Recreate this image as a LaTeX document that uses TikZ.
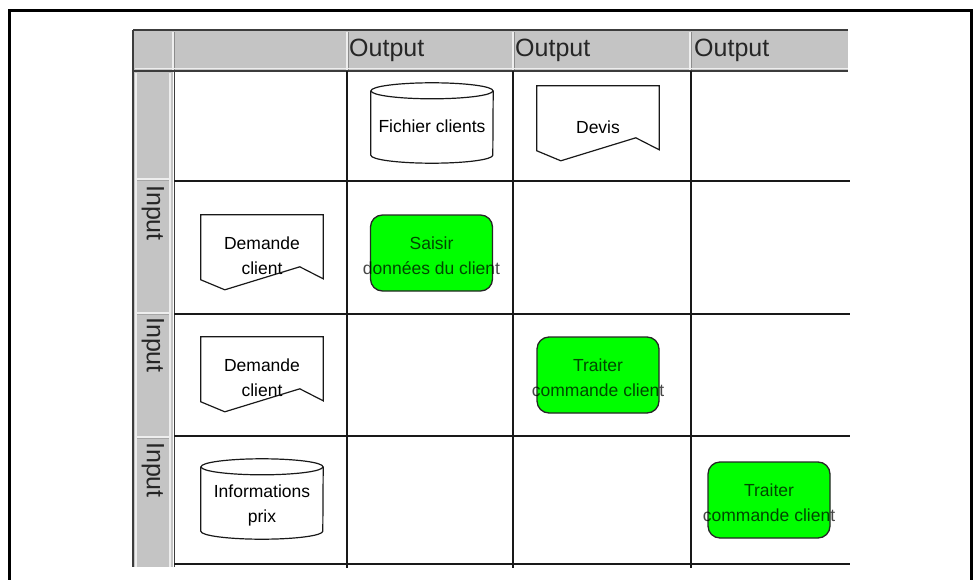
\documentclass[tikz,border=0pt]{standalone}
\usepackage{fontspec}
\setmainfont{Liberation Sans}
\usetikzlibrary{calc}
\definecolor{hdrgray}{RGB}{196,196,196}
\definecolor{hdrlight}{RGB}{238,238,238}
\definecolor{hdrdark}{RGB}{60,60,60}
\definecolor{gridcol}{RGB}{25,25,25}
\definecolor{procgreen}{RGB}{0,255,0}
\newcommand\drawstore[1]{%
  \draw[shapeline] ($(#1.north)+(0,8)$) ellipse [x radius=61pt, y radius=8pt];
  \draw[shapeline] ($(#1.north west)+(0,8)$) -- ($(#1.south west)+(0,-8)$)
    arc[start angle=180, end angle=360, x radius=61pt, y radius=8pt]
    -- ($(#1.north east)+(0,8)$);}
\newcommand\drawdocu[1]{%
  \draw[shapeline] (#1.north west) -- (#1.north east) -- ($(#1.north east)+(0,64)$)
    -- ($(#1.north west)+(99,52)$) -- ($(#1.north west)+(24,75)$)
    -- ($(#1.north west)+(0,65)$) -- cycle;}
\newcommand\tpad{\rule{0pt}{19pt}}
\newcommand\tpadd{\rule{0pt}{26pt}}
\begin{document}
\begin{tikzpicture}[x=1pt,y=-1pt,
  hdr/.style={font=\fontsize{25}{29}\selectfont, text=black!85, inner sep=0pt},
  lbl/.style={font=\fontsize{17.5}{25}\selectfont, align=center, inner sep=0pt},
  shapeline/.style={draw=gridcol, line width=1.2pt},
  store/.style={lbl, minimum width=122pt, minimum height=80pt},
  docu/.style={lbl, minimum width=122pt, minimum height=76pt},
  proc/.style={lbl, minimum width=122pt, minimum height=76pt, rounded corners=12pt,
    draw=black!85, line width=1.3pt, fill=procgreen, text=black, text opacity=0.72},
  gridline/.style={draw=gridcol, line width=1.5pt},
  lightline/.style={draw=hdrlight, line width=1.5pt},
  darkline/.style={draw=hdrdark, line width=1.6pt}]
\useasboundingbox (0,0) rectangle (973,580);
% outer frame
\draw[line width=3pt] (9.5,590) -- (9.5,11) -- (971.5,11) -- (971.5,590);
% gray header row and column
\fill[hdrgray] (133,30) rectangle (848,71);
\fill[hdrgray] (133,71) rectangle (173,567);
% header separators
\foreach \xx in {173,347,513,690} {
  \draw[lightline] (\xx,32) -- (\xx,70);
  \draw[draw=black!45, line width=0.8pt] (\xx+1.5,32) -- (\xx+1.5,70);
}
% gray column separators
\foreach \yy in {179,313,437} {
  \draw[lightline] (135,\yy) -- (171,\yy);
  \draw[draw=black!35, line width=0.8pt] (135,\yy+1.5) -- (171,\yy+1.5);
}
\draw[lightline] (136,73) -- (136,567);
\draw[lightline] (170,73) -- (170,567);
% dark borders of header
\draw[darkline] (133,30) -- (848,30);
\draw[darkline] (133,30) -- (133,567);
\draw[darkline] (133,71) -- (848,71);
\draw[darkline] (174.5,71) -- (174.5,567);
\draw[lightline, line width=1pt] (135,68.5) -- (848,68.5);
% body grid
\foreach \yy in {181,314,436,564} { \draw[gridline] (174,\yy) -- (850,\yy); }
\foreach \xx in {347,513,691} { \draw[gridline] (\xx,71) -- (\xx,568); }
% header labels
\node[hdr, anchor=west] (o1) at (349,50) {Output};
\node[hdr, anchor=west] (o2) at (515,50) {Output};
\node[hdr, anchor=west] (o3) at (694,50) {Output};
\node[hdr, rotate=-90, anchor=west] (i1) at (153,185) {Input};
\node[hdr, rotate=-90, anchor=west] (i2) at (153,317) {Input};
\node[hdr, rotate=-90, anchor=west] (i3) at (153,442) {Input};
% shapes
\node[store] (fc) at (432,123) {\tpad Fichier clients};
\drawstore{fc}
\node[docu] (dv) at (598,124) {\tpad Devis};
\drawdocu{dv}
\node[docu] (dc1) at (262,253) {\tpad Demande\\client};
\drawdocu{dc1}
\node[proc] (sd) at (431.5,253) {\tpad Saisir\\\makebox[100pt]{données du client}};
\node[docu] (dc2) at (262,375) {\tpad Demande\\client};
\drawdocu{dc2}
\node[proc] (tc1) at (598,375) {\tpad Traiter\\\makebox[100pt]{commande client}};
\node[store] (ip) at (262,499) {\tpadd Informations\\prix};
\drawstore{ip}
\node[proc] (tc2) at (769,500) {\tpad Traiter\\\makebox[100pt]{commande client}};
\end{tikzpicture}
\end{document}
